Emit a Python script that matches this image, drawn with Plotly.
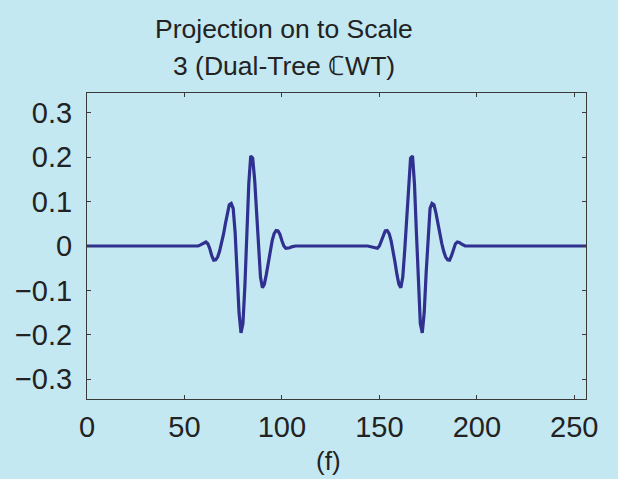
import plotly.graph_objects as go

# Packet 1 (samples)
p1_x = list(range(57, 108))
p1_y = [0.000, 0.002, 0.005, 0.008, 0.009, 0.005, -0.006, -0.022, -0.032, -0.031,
        -0.025, -0.012, 0.006, 0.026, 0.050, 0.075, 0.093, 0.096, 0.085, 0.030,
        -0.060, -0.150, -0.196, -0.175, -0.090, 0.030, 0.140, 0.203, 0.198, 0.150,
        0.070, -0.010, -0.070, -0.094, -0.086, -0.064, -0.036, -0.010, 0.012, 0.028,
        0.035, 0.034, 0.026, 0.012, 0.000, -0.005, -0.005, -0.004, -0.002, -0.001,
        0.000]

# Packet 2 (samples)
p2_x = list(range(144, 195))
p2_y = [0.000, -0.001, -0.002, -0.004, -0.005, -0.005, 0.000, 0.012, 0.026, 0.034,
        0.035, 0.028, 0.012, -0.010, -0.036, -0.064, -0.086, -0.094, -0.070, -0.010,
        0.070, 0.150, 0.198, 0.203, 0.140, 0.030, -0.090, -0.175, -0.196, -0.150,
        -0.060, 0.030, 0.085, 0.096, 0.093, 0.075, 0.050, 0.026, 0.006, -0.012,
        -0.025, -0.031, -0.032, -0.022, -0.006, 0.005, 0.009, 0.008, 0.005, 0.002,
        0.000]

x_start, x_end = 0, 256
x_ticks = [0, 50, 100, 150, 200, 250]
y_ticks = [-0.3, -0.2, -0.1, 0, 0.1, 0.2, 0.3]
y_tick_text = ["\u22120.3", "\u22120.2", "\u22120.1", "0", "0.1", "0.2", "0.3"]
title_lines = ["Projection on to Scale", "3 (Dual-Tree \u2102WT)"]
xlabel_text = "(f)"

x_all = [x_start] + p1_x + p2_x + [x_end]
y_all = [0.0] + p1_y + p2_y + [0.0]

bg = "#c3e8f1"
line_col = "#2f3090"
ink = "#222222"
axis_col = "#3a3a3a"
FONT = "Liberation Sans, Arial, sans-serif"

fig = go.Figure()
fig.add_trace(go.Scatter(x=x_all, y=y_all, mode="lines",
                         line=dict(color=line_col, width=3.2), hoverinfo="skip"))

fig.update_layout(
    width=618, height=479,
    paper_bgcolor=bg, plot_bgcolor=bg,
    margin=dict(l=87, r=32, t=93, b=80),
    showlegend=False,
    font=dict(family=FONT, color=ink, size=27),
)
# title as two annotations
for line_text, cy in zip(title_lines, [29, 66]):
    fig.add_annotation(text=line_text, xref="paper", yref="paper",
                       x=(284 - 87) / 498.7, y=1 + (93 - cy) / 306,
                       xanchor="center", yanchor="middle", showarrow=False,
                       font=dict(family=FONT, size=26.5, color=ink))
fig.add_annotation(text=xlabel_text, xref="paper", yref="paper",
                   x=(328 - 87) / 498.7, y=-(461 - 399) / 306,
                   xanchor="center", yanchor="middle", showarrow=False,
                   font=dict(family=FONT, size=26, color=ink))

fig.update_xaxes(range=[x_start, x_end], tickvals=x_ticks,
                 ticks="inside", ticklen=4, tickcolor=axis_col,
                 showline=True, linecolor=axis_col, linewidth=1, mirror="ticks",
                 showgrid=False, zeroline=False,
                 tickfont=dict(size=29, color=ink), ticklabelstandoff=2)
fig.update_yaxes(range=[-0.345, 0.345], tickvals=y_ticks, ticktext=y_tick_text,
                 ticks="inside", ticklen=4, tickcolor=axis_col,
                 showline=True, linecolor=axis_col, linewidth=1, mirror="ticks",
                 showgrid=False, zeroline=False,
                 tickfont=dict(size=29, color=ink), ticklabelstandoff=8)

fig.write_html("out.html")
